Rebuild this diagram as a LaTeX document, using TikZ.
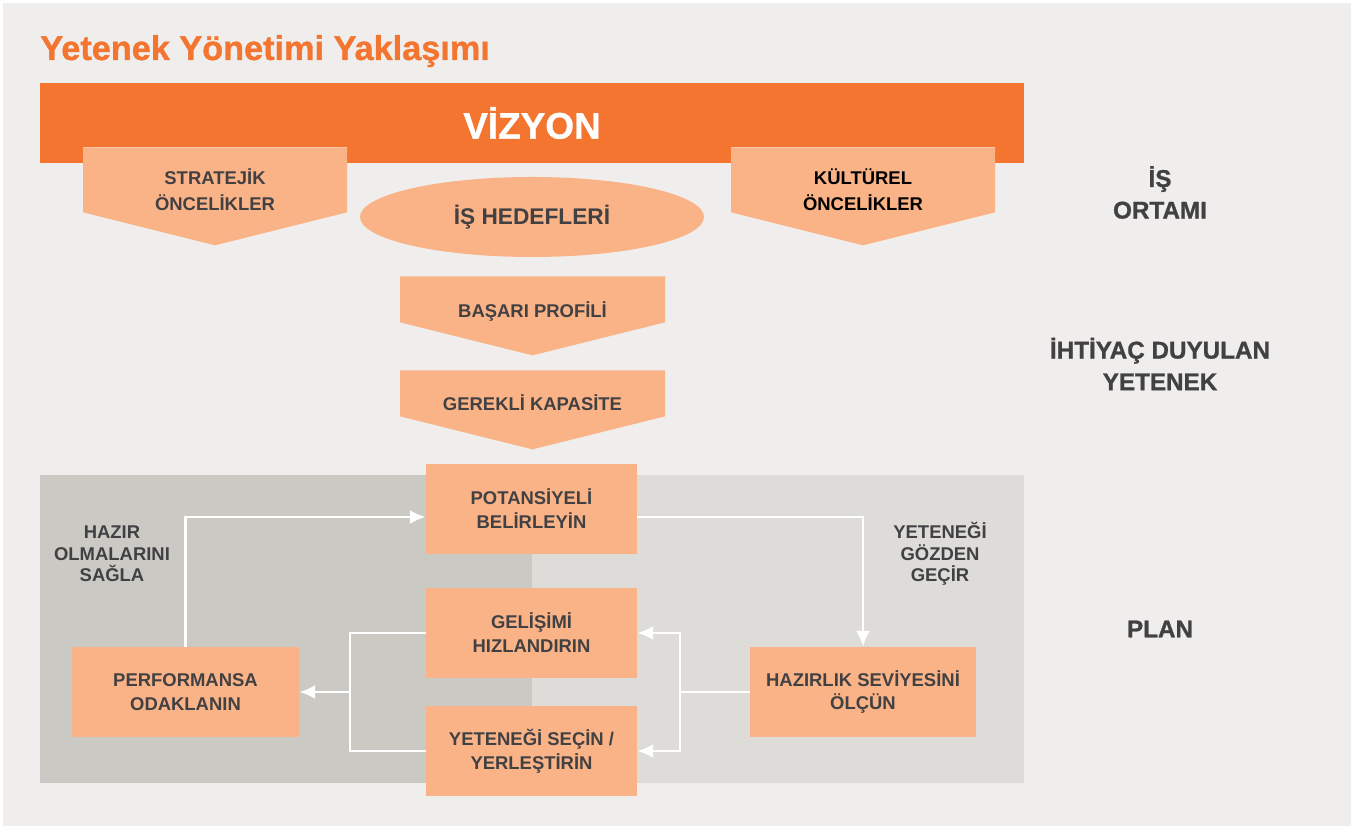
\documentclass[tikz,border=0pt]{standalone}
\usepackage{fontspec}
\setmainfont{Liberation Sans}
\newfontfamily\heavyfont{Liberation Sans Bold}[FakeBold=1]
\usetikzlibrary{shapes.geometric,arrows.meta}
\definecolor{pagegray}{HTML}{EFEEEC}
\definecolor{vizorange}{HTML}{F37530}
\definecolor{peach}{HTML}{FAB387}
\definecolor{plandark}{HTML}{CAC9C4}
\definecolor{planlight}{HTML}{DDDCD8}
\definecolor{textgray}{HTML}{414042}
\begin{document}
\begin{tikzpicture}
        \tikzstyle{block} = [rectangle, fill=peach, text=textgray, align=center, font=\fontsize{10.5}{13.6}\selectfont\bfseries, minimum width=4.22cm, minimum height=1.8cm, inner sep=0pt]
        \tikzstyle{pent} = [rectangle, anchor=north, fill=pagegray, text=textgray, align=center, font=\fontsize{10.5}{14.7}\selectfont\bfseries, minimum width=5.28cm, inner sep=0pt, text depth=0.28cm,
            path picture={\fill[peach] (path picture bounding box.north west) -- (path picture bounding box.north east) -- ([yshift=0.66cm]path picture bounding box.south east) -- (path picture bounding box.south) -- ([yshift=0.66cm]path picture bounding box.south west) -- cycle;}]
        \tikzstyle{side} = [text=textgray, align=center, font=\fontsize{13.8}{18}\selectfont\heavyfont]
        \tikzstyle{note} = [text=textgray, align=center, font=\fontsize{10.5}{12.2}\selectfont\bfseries]
        \tikzstyle{line} = [-{Latex[length=9pt,width=8pt]},draw=white,line width=1.5pt]
        \tikzstyle{noarrow} = [draw=white,line width=1.5pt]
        \useasboundingbox (0,0) rectangle (27.08,16.58);
        \fill[white] (0,0) rectangle (27.08,16.58);
        \fill[pagegray] (0.06,0.06) rectangle (27.02,16.52);
        \node[anchor=base west, text=vizorange, font=\fontsize{19.5}{22}\selectfont\heavyfont, inner sep=0pt] (title) at (0.8,15.38) {Yetenek Yönetimi Yaklaşımı};
        % is ortami
        \node[fill=vizorange, minimum width=19.68cm, minimum height=1.6cm, inner sep=0pt, text=white, font=\fontsize{21}{24}\selectfont\heavyfont] (vizyon) at (10.64,14.12) {VİZYON};
        \node[pent, minimum height=1.96cm] (strateji) at (4.3,13.64) {STRATEJİK\\ÖNCELİKLER};
        \node[pent, minimum height=1.96cm, text=black] (kultur) at (17.26,13.64) {KÜLTÜREL\\ÖNCELİKLER};
        \node[ellipse, fill=peach, minimum width=6.88cm, minimum height=1.6cm, inner sep=0pt, text=textgray, font=\fontsize{12.9}{15}\selectfont\bfseries] (hedef) at (10.64,12.24) {İŞ HEDEFLERİ};
        % ihtiyac duyulan yetenek
        \node[pent, minimum width=5.3cm, minimum height=1.58cm, text depth=0.24cm] (basari) at (10.65,11.06) {BAŞARI PROFİLİ};
        \node[pent, minimum width=5.3cm, minimum height=1.58cm] (kapasite) at (10.65,9.18) {GEREKLİ KAPASİTE};
        % plan
        \fill[plandark] (0.8,0.92) rectangle (10.64,7.08);
        \fill[planlight] (10.64,0.92) rectangle (20.48,7.08);
        \node[block] (pot) at (10.63,6.4) {POTANSİYELİ\\BELİRLEYİN};
        \node[block] (gel) at (10.63,3.92) {GELİŞİMİ\\HIZLANDIRIN};
        \node[block] (sec) at (10.63,1.56) {YETENEĞİ SEÇİN /\\YERLEŞTİRİN};
        \node[block, minimum width=4.54cm] (perf) at (3.71,2.74) {PERFORMANSA\\ODAKLANIN};
        \node[block, minimum width=4.52cm] (haz) at (17.26,2.74) {HAZIRLIK SEVİYESİNİ\\ÖLÇÜN};
        \node[note] (hazir) at (2.24,5.5) {HAZIR\\OLMALARINI\\SAĞLA};
        \node[note] (gozden) at (18.8,5.5) {YETENEĞİ\\GÖZDEN\\GEÇİR};
        \node[side] (ortam) at (23.2,12.73) {İŞ\\ORTAMI};
        \node[side] (ihtiyac) at (23.2,9.3) {İHTİYAÇ DUYULAN\\YETENEK};
        \node[side] (plan) at (23.2,4.0) {PLAN};
        \coordinate (rsplit) at (13.6,2.74);
        \coordinate (lsplit) at (7.0,2.74);
        \draw[line] (perf.north) |- ([yshift=-0.16cm]pot.west);
        \draw[line] ([yshift=-0.16cm]pot.east) -| (haz.north);
        \draw[noarrow] (haz.west) -- (rsplit);
        \draw[line] (rsplit) |- (gel.east);
        \draw[line] (rsplit) |- (sec.east);
        \draw[noarrow] (gel.west) -| (lsplit);
        \draw[noarrow] (sec.west) -| (lsplit);
        \draw[line] (lsplit) -- (perf.east);
    \end{tikzpicture}
\end{document}
